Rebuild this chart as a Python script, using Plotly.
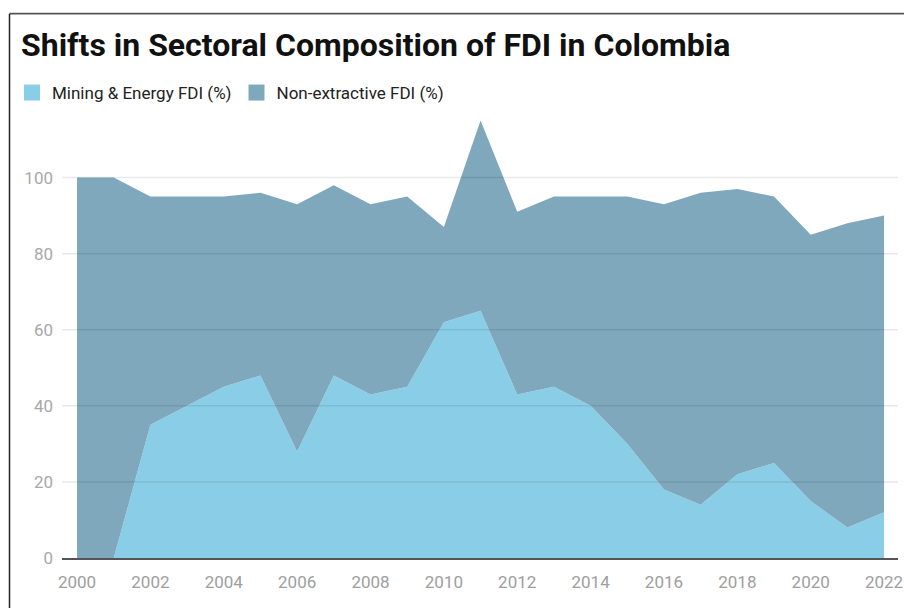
import plotly.graph_objects as go

years = list(range(2000, 2023))
mining = [0, 0, 35, 40, 45, 48, 28, 48, 43, 45, 62, 65, 43, 45, 40, 30, 18, 14, 22, 25, 15, 8, 12]
totals = [100, 100, 95, 95, 95, 96, 93, 98, 93, 95, 87, 115, 91, 95, 95, 95, 93, 96, 97, 95, 85, 88, 90]
non_extractive = [t - m for t, m in zip(totals, mining)]
y_ticks = [0, 20, 40, 60, 80, 100]
x_ticks = list(range(2000, 2023, 2))
names = ["Mining & Energy FDI (%)", "Non-extractive FDI (%)"]
colors = ["#89CEE6", "#7FA8BC"]

fig = go.Figure()
for vals, name, col in zip([mining, non_extractive], names, colors):
    fig.add_trace(go.Scatter(
        x=years, y=vals, name=name, mode="lines", showlegend=False,
        line=dict(width=0), stackgroup="one", fillcolor=col,
    ))
# legend swatches (square)
for name, col in zip(names, colors):
    fig.add_trace(go.Scatter(
        x=[None], y=[None], name=name, mode="markers",
        marker=dict(symbol="square", size=18, color=col),
    ))

W = 904 - 62 - 6
H = 608 - 110 - 50
shapes = []
for t in y_ticks[1:]:
    shapes.append(dict(type="line", xref="paper", yref="y", x0=0, x1=1, y0=t, y1=t,
                       line=dict(color="rgba(0,0,0,0.09)", width=1.5), layer="above"))
# frame lines
fx = (9.5 - 62) / W
fy = (558 - 12.5) / H
shapes.append(dict(type="line", xref="paper", yref="paper", x0=fx, x1=1.02, y0=fy, y1=fy,
                   line=dict(color="#555", width=1.8), layer="above"))
shapes.append(dict(type="line", xref="paper", yref="paper", x0=fx, x1=fx, y0=-0.15, y1=fy,
                   line=dict(color="#222", width=1.5), layer="above"))
fig.update_layout(shapes=shapes)

fig.update_layout(
    width=904, height=608,
    margin=dict(l=62, r=6, t=110, b=50),
    paper_bgcolor="white", plot_bgcolor="white",
    font=dict(family="Roboto", color="#333"),
    title=dict(text="<b>Shifts in Sectoral Composition of FDI in Colombia</b>",
               x=21 / 904, xref="container", xanchor="left", y=1 - 45 / 608, yref="container",
               yanchor="middle", font=dict(size=32, color="#111", family="Roboto")),
    legend=dict(orientation="h", x=12 / 904, xref="container", y=1 - 93 / 608, yref="container",
                yanchor="middle", xanchor="left",
                font=dict(size=17, color="#222"), traceorder="normal",
                itemsizing="trace", itemwidth=30),
    showlegend=True,
)
fig.update_xaxes(range=[1999.59, 2022.38], tickvals=x_ticks, showgrid=False,
                 showline=True, linecolor="#555", linewidth=2, automargin=False,
                 tickfont=dict(size=17, color="#9e9e9e"), ticks="", ticklabelstandoff=8,
                 zeroline=False)
fig.update_yaxes(range=[0, 117.5], tickvals=y_ticks, showgrid=False, zeroline=False,
                 automargin=False,
                 tickfont=dict(size=17, color="#a8a8a8"), ticks="", ticklabelstandoff=8)

fig.write_html("out.html")
